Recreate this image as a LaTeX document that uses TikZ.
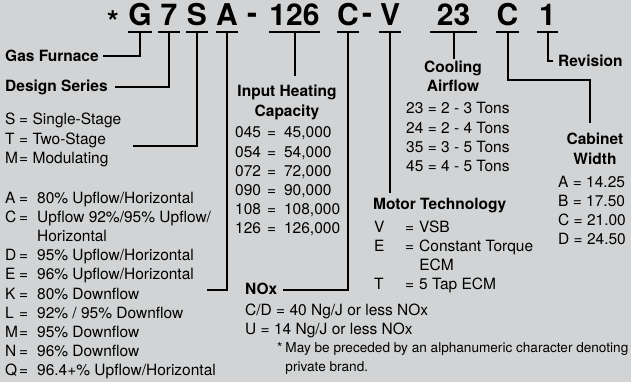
\documentclass[tikz,border=0pt]{standalone}
\usepackage{fontspec}
\setmainfont{TeX Gyre Heros}
\usetikzlibrary{calc}
\definecolor{panel}{RGB}{209,211,212}
\newcommand\diagfont{\fontsize{15.5}{19.2}\selectfont}
\tikzset{
  link/.style={line width=2pt},
  code/.style={font=\bfseries\fontsize{30}{30}\selectfont, inner sep=0pt,
    text height=22pt, text depth=5.5pt, anchor=base},
  head/.style={font=\diagfont\bfseries, inner sep=0pt},
  txt/.style={font=\diagfont, inner sep=0pt},
}

\begin{document}
\begin{tikzpicture}[x=1pt,y=-1pt]
    \fill[panel] (0,0) rectangle (631,382);
    \useasboundingbox (0,0) rectangle (631,382);
    \node[code] (star) at (113,32.5) {*};
    \node[code] (dashA) at (252,24) {-};
    \node[code] (dashB) at (367,24) {-};
    \foreach \n/\t/\x/\w in {G/G/140/22, 7/7/169/22, S/S/197/22, A/A/227/22,
      126/126/294.5/49, C/C/348/22, V/V/390/22, 23/23/453.5/47,
      W/C/507.5/21, 1/1/547.5/21} {
        \node[code, minimum width=\w] (c\n) at (\x,26) {\t};
        \draw[link] (c\n.south west) -- (c\n.south east);
      }
    \node[head, anchor=base west] (gas) at (5,61.5) {Gas Furnace};
    \node[head, anchor=base west] (dsgn) at (5,91.5) {Design Series};
    \node[txt, anchor=base west] (stage) at (5,125) {\begin{tabular}[t]{@{}l@{\hspace{1pt}}c@{\hspace{4.5pt}}l@{}}
        S & = & Single-Stage\\ T & = & Two-Stage\\ M & = & Modulating\end{tabular}};
    \node[txt, anchor=base west] (flow) at (5,203) {\begin{tabular}[t]{@{}l@{\hspace{1pt}}c@{\hspace{9pt}}l@{}}
        A & = & 80\% Upflow/Horizontal\\
        C & = & Upflow 92\%/95\% Upflow/\\
          &   & Horizontal\\
        D & = & 95\% Upflow/Horizontal\\
        E & = & 96\% Upflow/Horizontal\\
        K & = & 80\% Downflow\\
        L & = & 92\% / 95\% Downflow\\
        M & = & 95\% Downflow\\
        N & = & 96\% Downflow\\
        Q & = & 96.4+\% Upflow/Horizontal\end{tabular}};
    \node[head, anchor=base] (heat) at (287,97) {\begin{tabular}[t]{@{}c@{}}Input Heating\\Capacity\end{tabular}};
    \node[txt, anchor=base west] (heatTab) at (235,138) {\begin{tabular}[t]{@{}l@{\hspace{6pt}}c@{\hspace{8pt}}l@{}}
        045 & = & 45,000\\ 054 & = & 54,000\\ 072 & = & 72,000\\
        090 & = & 90,000\\ 108 & = & 108,000\\ 126 & = & 126,000\end{tabular}};
    \node[head, anchor=base west] (nox) at (245,294) {NOx};
    \node[txt, anchor=base west] (noxTab) at (245,315) {\begin{tabular}[t]{@{}l@{}}
        C/D = 40 Ng/J or less NOx\\ U = 14 Ng/J or less NOx\end{tabular}};
    \node[head, anchor=base west] (motor) at (373,209.5) {Motor Technology};
    \node[txt, anchor=base west] (motorTab) at (374,232) {\begin{tabular}[t]{@{}p{31pt}@{}l@{\hspace{5pt}}l@{}}
        V & = & VSB\\ E & = & Constant Torque\\ & & ECM\\ T & = & 5 Tap ECM\end{tabular}};
    \node[head, anchor=base] (cool) at (453,72.5) {\begin{tabular}[t]{@{}c@{}}Cooling\\Airflow\end{tabular}};
    \node[txt, anchor=base west] (coolTab) at (406,114) {\begin{tabular}[t]{@{}l@{}}
        23 = 2 - 3 Tons\\ 24 = 2 - 4 Tons\\ 35 = 3 - 5 Tons\\ 45 = 4 - 5 Tons\end{tabular}};
    \node[head, anchor=base] (cab) at (595,145) {\begin{tabular}[t]{@{}c@{}}Cabinet\\Width\end{tabular}};
    \node[txt, anchor=base west] (cabTab) at (558,187) {\begin{tabular}[t]{@{}l@{}}
        A = 14.25\\ B = 17.50\\ C = 21.00\\ D = 24.50\end{tabular}};
    \node[head, anchor=base west] (rev) at (558,66.5) {Revision};
    \node[txt, anchor=base west, font=\fontsize{13.6}{19}\selectfont] (note) at (277,352)
      {\begin{tabular}[t]{@{}l@{\hspace{3pt}}l@{}} * & May be preceded by an alphanumeric character denoting\\
        & private brand.\end{tabular}};
    \coordinate (sEnd) at (133,146);
    \coordinate (aEnd) at (207,289.5);
    \coordinate (wTurn) at (590,80);
    \draw[link] (cG.south) |- ([xshift=4pt]gas.east);
    \draw[link] (c7.south) |- ([xshift=7pt]dsgn.east);
    \draw[link] (cS.south) |- (sEnd);
    \draw[link] (cA.south) |- (aEnd);
    \draw[link, shorten >=7.6pt] (c126.south) -- (c126.south |- heat.north);
    \draw[link] (cC.south) |- ([xshift=6pt,yshift=-2pt]nox.east);
    \draw[link, shorten >=5pt] (cV.south) -- (cV.south |- motor.north);
    \draw[link] (c23.south) -- (c23.south |- cool.north);
    \draw[link, shorten >=8.6pt] (cW.south) |- (wTurn) -- (wTurn |- cab.north);
    \draw[link] (c1.south) |- ([xshift=-5pt]rev.west);
  \end{tikzpicture}
\end{document}
